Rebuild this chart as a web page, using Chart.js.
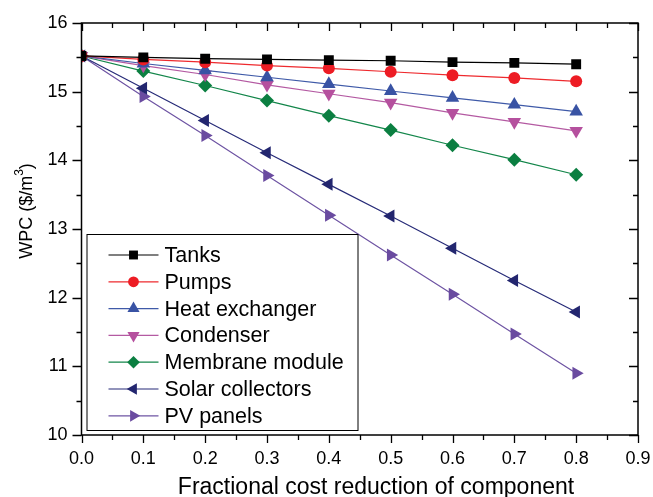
<!DOCTYPE html>
<html>
<head>
<meta charset="utf-8">
<script src="https://cdn.jsdelivr.net/npm/chart.js@4.4.0/dist/chart.umd.min.js"></script>
<style>
  html, body { margin: 0; padding: 0; background: #fff; }
  #wrap { width: 653px; height: 497px; }
</style>
</head>
<body>
<div id="wrap"><canvas id="chart" width="653" height="497"></canvas></div>
<script>
// fractional cost reduction
var reduction = [0, 0.1, 0.2, 0.3, 0.4, 0.5, 0.6, 0.7, 0.8];

// WPC values ($/m3)
var tanks     = [15.52, 15.50, 15.48, 15.47, 15.46, 15.45, 15.43, 15.42, 15.40];
var pumps     = [15.52, 15.47, 15.43, 15.38, 15.34, 15.29, 15.24, 15.20, 15.15];
var heatExch  = [15.52, 15.41, 15.31, 15.21, 15.11, 15.01, 14.91, 14.81, 14.71];
var condenser = [15.52, 15.38, 15.25, 15.10, 14.97, 14.84, 14.69, 14.56, 14.43];
var membrane  = [15.52, 15.30, 15.09, 14.87, 14.65, 14.44, 14.22, 14.01, 13.79];
var solar     = [15.52, 15.05, 14.58, 14.11, 13.65, 13.19, 12.72, 12.25, 11.79];
var pvPanels  = [15.52, 14.93, 14.36, 13.78, 13.20, 12.62, 12.05, 11.47, 10.90];

var seriesNames = ['Tanks', 'Pumps', 'Heat exchanger', 'Condenser', 'Membrane module', 'Solar collectors', 'PV panels'];
var seriesData = [tanks, pumps, heatExch, condenser, membrane, solar, pvPanels];
var lineColors = ['#000000', '#ee2a2e', '#3f5aa8', '#b45aa2', '#13864a', '#272b78', '#6e54a3'];
var markColors = ['#000000', '#ed1c24', '#3953a4', '#b5509e', '#0b7f41', '#23266f', '#6a4ba0'];
var markStyles = ['rect', 'circle', 'triangle', 'triangle', 'rectRot', 'triangle', 'triangle'];
var markRotation = [0, 0, 0, 180, 0, -90, 90];
var markRadius = [7, 6, 7.8, 7.8, 7, 7.5, 7.5];

var FONT = '"Liberation Sans", Arial, sans-serif';

var datasets = seriesNames.map(function (name, i) {
    return {
        label: name,
        data: reduction.map(function (x, j) { return { x: x, y: seriesData[i][j] }; }),
        borderColor: lineColors[i],
        backgroundColor: markColors[i],
        pointBackgroundColor: markColors[i],
        pointBorderColor: markColors[i],
        borderWidth: 1.2,
        pointBorderWidth: 0,
        pointStyle: markStyles[i],
        pointRotation: markRotation[i],
        pointRadius: markRadius[i],
        pointHoverRadius: markRadius[i],
        tension: 0
    };
});

// frame, ticks, axis titles and inset legend
var framePlugin = {
    id: 'frame',
    afterDatasetsDraw: function (chart) {
        var ctx = chart.ctx, a = chart.chartArea;
        var xs = chart.scales.x, ys = chart.scales.y;
        ctx.save();
        ctx.strokeStyle = '#000';
        ctx.lineWidth = 1.5;
        ctx.strokeRect(a.left, a.top, a.right - a.left, a.bottom - a.top);
        ctx.lineWidth = 1.3;
        ctx.beginPath();
        var v, p, len;
        // bottom ticks outward, top ticks inward
        for (v = 0; v <= 0.9001; v += 0.05) {
            p = Math.round(xs.getPixelForValue(v)) + 0.5;
            len = (Math.round(v * 20) % 2 === 0) ? 8 : 5;
            ctx.moveTo(p, a.bottom); ctx.lineTo(p, a.bottom + len);
            ctx.moveTo(p, a.top); ctx.lineTo(p, a.top + len);
        }
        // left ticks outward, right ticks inward
        for (v = 10; v <= 16.001; v += 0.5) {
            p = Math.round(ys.getPixelForValue(v)) + 0.5;
            len = (Math.round(v * 2) % 2 === 0) ? 9 : 5;
            ctx.moveTo(a.left, p); ctx.lineTo(a.left - len, p);
            ctx.moveTo(a.right, p); ctx.lineTo(a.right - len, p);
        }
        ctx.stroke();

        // axis titles
        ctx.fillStyle = '#000';
        ctx.textBaseline = 'middle';
        ctx.textAlign = 'center';
        ctx.font = '23px ' + FONT;
        ctx.fillText('Fractional cost reduction of component', 376, chart.height - 9);

        ctx.save();
        ctx.translate(27, 211);
        ctx.rotate(-Math.PI / 2);
        ctx.font = '18px ' + FONT;
        var t1 = 'WPC ($/m', t3 = ')';
        var w1 = ctx.measureText(t1).width, w3 = ctx.measureText(t3).width;
        ctx.font = '12px ' + FONT;
        var w2 = ctx.measureText('3').width;
        var x0 = -(w1 + w2 + w3) / 2;
        ctx.textAlign = 'left';
        ctx.font = '18px ' + FONT;
        ctx.fillText(t1, x0, 0);
        ctx.fillText(t3, x0 + w1 + w2, 0);
        ctx.font = '12px ' + FONT;
        ctx.fillText('3', x0 + w1, -7);
        ctx.restore();

        // legend box
        var bx = a.left + 5, by = a.top + 211, bw = 271, bh = 196;
        ctx.fillStyle = '#fff';
        ctx.fillRect(bx, by, bw, bh);
        ctx.lineWidth = 1;
        ctx.strokeStyle = '#000';
        ctx.strokeRect(bx + 0.5, by + 0.5, bw, bh);
        ctx.font = '21.5px ' + FONT;
        ctx.textBaseline = 'middle';
        ctx.textAlign = 'left';
        chart.data.datasets.forEach(function (ds, i) {
            var y = by + 21 + i * 26.8;
            ctx.strokeStyle = ds.borderColor;
            ctx.lineWidth = 1.2;
            ctx.beginPath();
            ctx.moveTo(bx + 22, y); ctx.lineTo(bx + 72, y);
            ctx.stroke();
            ctx.fillStyle = ds.pointBackgroundColor;
            ctx.strokeStyle = ds.pointBorderColor;
            Chart.helpers.drawPoint(ctx, {
                pointStyle: ds.pointStyle,
                rotation: ds.pointRotation,
                radius: ds.pointRadius * 0.9,
                borderWidth: 0
            }, bx + 47, y);
            ctx.fillStyle = '#000';
            ctx.fillText(ds.label, bx + 78, y + 1);
        });
        ctx.restore();
    }
};

new Chart(document.getElementById('chart'), {
    type: 'line',
    data: { datasets: datasets },
    plugins: [framePlugin],
    options: {
        responsive: false,
        animation: false,
        events: [],
        layout: { padding: { top: 23, right: 15, left: 0, bottom: 0 } },
        plugins: { legend: { display: false }, tooltip: { enabled: false } },
        scales: {
            x: {
                type: 'linear',
                min: 0, max: 0.9,
                grid: { display: false, drawTicks: false },
                border: { display: false },
                afterFit: function (s) { s.height = 62; s.paddingRight = 0; s.paddingLeft = 0; },
                ticks: {
                    stepSize: 0.1,
                    padding: 13,
                    color: '#000',
                    font: { family: FONT, size: 18 },
                    callback: function (v) { return v.toFixed(1); }
                }
            },
            y: {
                type: 'linear',
                min: 10, max: 16,
                grid: { display: false, drawTicks: false },
                border: { display: false },
                afterFit: function (s) { s.width = 81.5; s.paddingTop = 0; s.paddingBottom = 0; },
                ticks: {
                    stepSize: 1,
                    padding: 14,
                    color: '#000',
                    font: { family: FONT, size: 18 }
                }
            }
        }
    }
});
</script>
</body>
</html>
